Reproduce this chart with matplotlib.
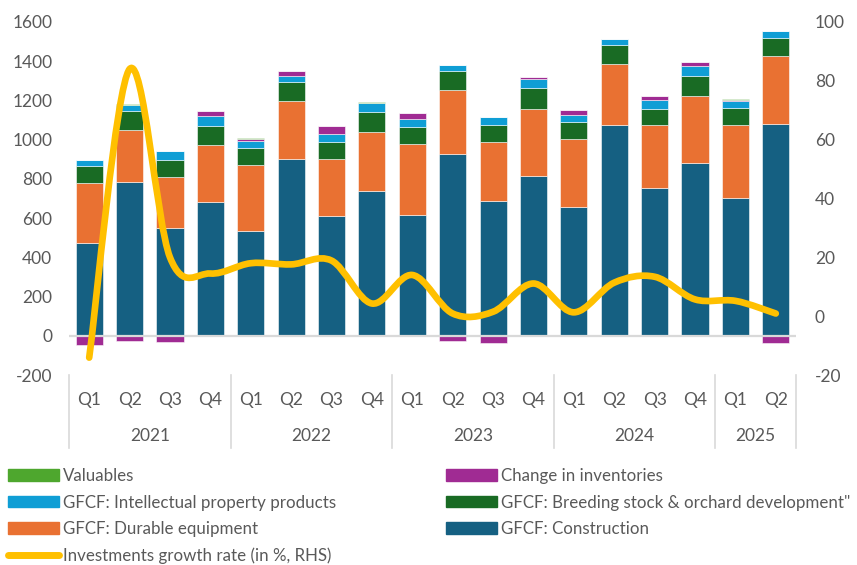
import numpy as np
import matplotlib
matplotlib.use("Agg")
import matplotlib.pyplot as plt
from matplotlib.path import Path
from matplotlib.patches import PathPatch, Patch
from matplotlib.lines import Line2D
import matplotlib.transforms as mtransforms

plt.rcParams['font.family'] = ['Lato', 'DejaVu Sans']
plt.rcParams['axes.unicode_minus'] = False

quarters = ["Q1", "Q2", "Q3", "Q4", "Q1", "Q2", "Q3", "Q4", "Q1", "Q2", "Q3", "Q4",
            "Q1", "Q2", "Q3", "Q4", "Q1", "Q2"]
years = ["2021", "2022", "2023", "2024", "2025"]
year_quarter_counts = [4, 4, 4, 4, 2]

construction = [471, 785, 549, 681, 534, 902, 609, 739, 614, 925, 687, 815, 658, 1073, 751, 879, 705, 1082]
durable = [307, 266, 261, 290, 336, 297, 292, 298, 362, 329, 299, 343, 343, 314, 322, 346, 370, 344]
breeding = [89, 97, 87, 100, 89, 96, 85, 103, 90, 95, 87, 106, 91, 94, 85, 102, 88, 92]
ip_products = [29, 31, 45, 48, 36, 29, 44, 47, 38, 31, 43, 46, 36, 32, 46, 50, 36, 34]
inventories = [-45, -29, -34, 26, 9, 24, 41, 0, 34, -26, -37, 10, 22, 0, 17, 17, 4, -35]
valuables = [0, 3, 0, 0, 3, 0, 0, 3, 0, 0, 0, 0, 0, 0, 0, 0, 3, 0]
growth = [-14.1, 84.0, 20.0, 14.5, 18.0, 17.6, 18.9, 4.3, 14.0, 0.9, 1.5, 11.1, 1.3, 11.4, 13.4, 5.7, 5.2, 0.9]

C_CONS = "#156082"
C_DUR = "#E97132"
C_BREED = "#196B24"
C_IP = "#0F9ED5"
C_INV = "#A02B93"
C_VAL = "#4EA72E"
C_LINE = "#FFC000"
C_TEXT = "#595959"
C_GRID = "#D9D9D9"

W, H = 857, 565
fig = plt.figure(figsize=(W / 100, H / 100), dpi=100)
ax = fig.add_axes([69 / W, 1 - 375 / H, (796 - 69) / W, (375 - 22) / H])
ax2 = ax.twinx()

x = np.arange(len(quarters))
bw = 0.67
edge = dict(edgecolor=(1, 1, 1, 0.55), linewidth=0.7)

cons = np.array(construction, float)
dur = np.array(durable, float)
brd = np.array(breeding, float)
ipp = np.array(ip_products, float)
inv = np.array(inventories, float)
val = np.array(valuables, float)

ax.bar(x, cons, bw, color=C_CONS, zorder=2, **edge)
b1 = cons
ax.bar(x, dur, bw, bottom=b1, color=C_DUR, zorder=2, **edge)
b2 = b1 + dur
ax.bar(x, brd, bw, bottom=b2, color=C_BREED, zorder=2, **edge)
b3 = b2 + brd
ax.bar(x, ipp, bw, bottom=b3, color=C_IP, zorder=2, **edge)
b4 = b3 + ipp
inv_pos = np.where(inv > 0, inv, 0)
inv_neg = np.where(inv < 0, inv, 0)
ax.bar(x, inv_pos, bw, bottom=b4, color=C_INV, zorder=2, **edge)
ax.bar(x, inv_neg, bw, bottom=0, color=C_INV, zorder=2, **edge)
b5 = b4 + inv_pos
ax.bar(x, val, bw, bottom=b5, color=C_VAL, zorder=2, **edge)

ax.axhline(0, color=C_GRID, lw=1.6, zorder=3)

ax.set_xlim(-0.5, len(quarters) - 0.5)
ax.set_ylim(-200, 1600)
ax.set_yticks(np.arange(-200, 1601, 200))
ax2.set_ylim(-20, 100)
ax2.set_yticks(np.arange(-20, 101, 20))

for a in (ax, ax2):
    for s in a.spines.values():
        s.set_visible(False)
ax.tick_params(axis='y', length=0, pad=12, labelsize=12.5, labelcolor=C_TEXT)
ax2.tick_params(axis='y', length=0, pad=13.5, labelsize=12.5, labelcolor=C_TEXT)
ax.set_xticks([])

# smoothed line (Excel-like cardinal spline through the data points)
pts = np.column_stack([x, np.array(growth, float)])
n = len(pts)
verts = [pts[0]]
codes = [Path.MOVETO]
for i in range(n - 1):
    p0 = pts[max(i - 1, 0)]
    p1 = pts[i]
    p2 = pts[i + 1]
    p3 = pts[min(i + 2, n - 1)]
    c1 = p1 + (p2 - p0) / 6.0
    c2 = p2 - (p3 - p1) / 6.0
    verts += [c1, c2, p2]
    codes += [Path.CURVE4] * 3
path = Path(verts, codes)
ax2.add_patch(PathPatch(path, fill=False, edgecolor=C_LINE, lw=4.8,
                        capstyle='round', joinstyle='round', zorder=5))

# category labels
trans = mtransforms.blended_transform_factory(ax.transData, ax.transAxes)
for xi, q in zip(x, quarters):
    ax.text(xi, -0.0708, q, transform=trans, ha='center', va='center',
            fontsize=12.5, color=C_TEXT)
start = 0
seps = [-0.5]
for yr, cnt in zip(years, year_quarter_counts):
    ax.text(start + (cnt - 1) / 2, -0.1728, yr, transform=trans, ha='center', va='center',
            fontsize=12.5, color=C_TEXT)
    start += cnt
    seps.append(start - 0.5)
for s in seps:
    ax.plot([s, s], [0, -0.207], transform=trans, color=C_GRID, lw=1.2, clip_on=False)

# legend
fs = 12.2
hl = 51 / (fs * 100 / 72)
left_handles = [Patch(color=C_VAL), Patch(color=C_IP), Patch(color=C_DUR),
                Line2D([], [], color=C_LINE, lw=5, solid_capstyle='round')]
left_labels = ["Valuables", "GFCF: Intellectual property products", "GFCF: Durable equipment",
               "Investments growth rate (in %, RHS)"]
right_handles = [Patch(color=C_INV), Patch(color=C_BREED), Patch(color=C_CONS)]
right_labels = ["Change in inventories", "GFCF: Breeding stock & orchard development\"",
                "GFCF: Construction"]
common = dict(loc='upper left', frameon=False, borderpad=0, borderaxespad=0,
              handlelength=hl, handleheight=0.68, handletextpad=0.22,
              labelspacing=0.62, fontsize=fs, labelcolor=C_TEXT)
fig.legend(left_handles, left_labels, bbox_to_anchor=(8 / W, 1 - 468 / H), **common)
fig.legend(right_handles, right_labels, bbox_to_anchor=(446 / W, 1 - 468 / H), **common)

fig.savefig("out.png", dpi=100)
